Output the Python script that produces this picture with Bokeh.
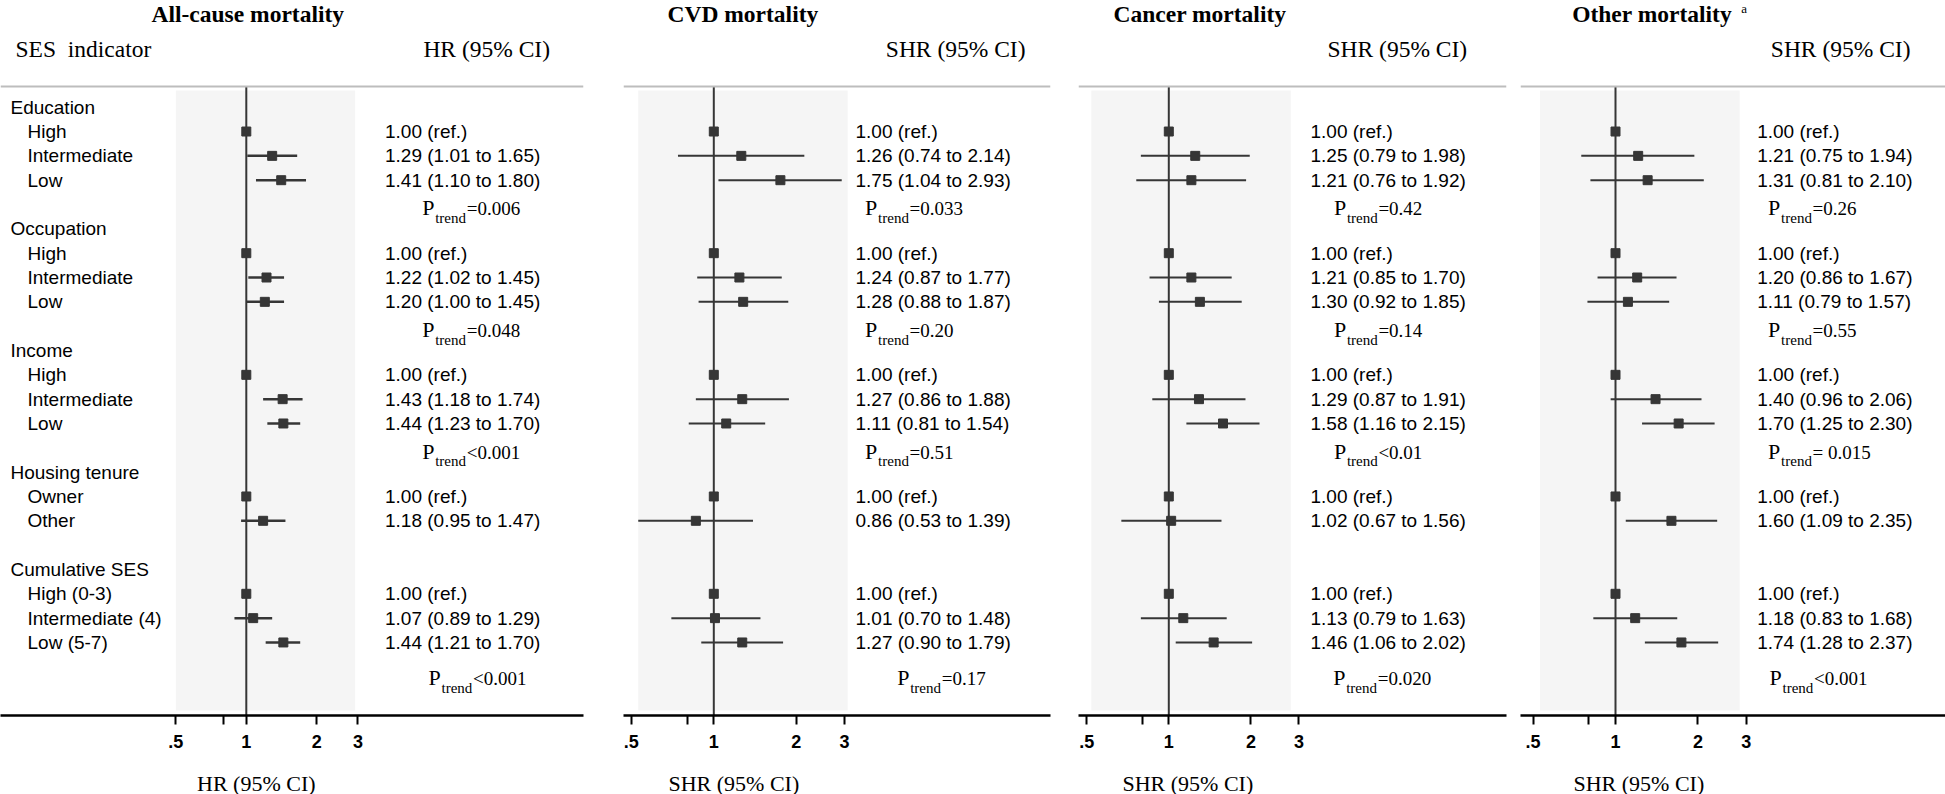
import math
from bokeh.plotting import figure
from bokeh.layouts import row, column
from bokeh.models import Range1d, FixedTicker, Span
from bokeh.core.properties import value
from bokeh.embed import file_html
from bokeh.resources import INLINE

# ---------------- data ----------------
groups = ["Education", "Occupation", "Income", "Housing tenure", "Cumulative SES"]
levels = [
    ["High", "Intermediate", "Low"],
    ["High", "Intermediate", "Low"],
    ["High", "Intermediate", "Low"],
    ["Owner", "Other"],
    ["High (0-3)", "Intermediate (4)", "Low (5-7)"],
]
panel_titles = ["All-cause mortality", "CVD mortality", "Cancer mortality", "Other mortality"]
title_marks = ["", "", "", "a"]
estimate_labels = ["HR (95% CI)", "SHR (95% CI)", "SHR (95% CI)", "SHR (95% CI)"]
ses_header = "SES\u00a0 indicator"
tick_values = [0.5, 0.8, 1, 2, 3]
tick_labels = [".5", "", "1", "2", "3"]

allcause_est = [1.00, 1.29, 1.41, 1.00, 1.22, 1.20, 1.00, 1.43, 1.44, 1.00, 1.18, 1.00, 1.07, 1.44]
allcause_lo = [None, 1.01, 1.10, None, 1.02, 1.00, None, 1.18, 1.23, None, 0.95, None, 0.89, 1.21]
allcause_hi = [None, 1.65, 1.80, None, 1.45, 1.45, None, 1.74, 1.70, None, 1.47, None, 1.29, 1.70]
allcause_p = ["=0.006", "=0.048", "<0.001", None, "<0.001"]

cvd_est = [1.00, 1.26, 1.75, 1.00, 1.24, 1.28, 1.00, 1.27, 1.11, 1.00, 0.86, 1.00, 1.01, 1.27]
cvd_lo = [None, 0.74, 1.04, None, 0.87, 0.88, None, 0.86, 0.81, None, 0.53, None, 0.70, 0.90]
cvd_hi = [None, 2.14, 2.93, None, 1.77, 1.87, None, 1.88, 1.54, None, 1.39, None, 1.48, 1.79]
cvd_p = ["=0.033", "=0.20", "=0.51", None, "=0.17"]

cancer_est = [1.00, 1.25, 1.21, 1.00, 1.21, 1.30, 1.00, 1.29, 1.58, 1.00, 1.02, 1.00, 1.13, 1.46]
cancer_lo = [None, 0.79, 0.76, None, 0.85, 0.92, None, 0.87, 1.16, None, 0.67, None, 0.79, 1.06]
cancer_hi = [None, 1.98, 1.92, None, 1.70, 1.85, None, 1.91, 2.15, None, 1.56, None, 1.63, 2.02]
cancer_p = ["=0.42", "=0.14", "<0.01", None, "=0.020"]

other_est = [1.00, 1.21, 1.31, 1.00, 1.20, 1.11, 1.00, 1.40, 1.70, 1.00, 1.60, 1.00, 1.18, 1.74]
other_lo = [None, 0.75, 0.81, None, 0.86, 0.79, None, 0.96, 1.25, None, 1.09, None, 0.83, 1.28]
other_hi = [None, 1.94, 2.10, None, 1.67, 1.57, None, 2.06, 2.30, None, 2.35, None, 1.68, 2.37]
other_p = ["=0.26", "=0.55", "= 0.015", None, "<0.001"]

panels_data = [
    (allcause_est, allcause_lo, allcause_hi, allcause_p),
    (cvd_est, cvd_lo, cvd_hi, cvd_p),
    (cancer_est, cancer_lo, cancer_hi, cancer_p),
    (other_est, other_lo, other_hi, other_p),
]

# ---------------- layout (pixels) ----------------
LAYOUT = [
    dict(left=0, width=603, bl=0, br=20, one=245.8, s=101.6, txt=384.5, p=421.7, p_last=428.0,
         title=151, head=549.5, axt=196.5, shade=(0.50, 2.92), ci_w=2.5),
    dict(left=603, width=461, bl=20, br=14, one=713.3, s=119.0, txt=855, p=864.6, p_last=896.7,
         title=667, head=1025, axt=668, shade=(0.53, 3.08), ci_w=2),
    dict(left=1064, width=449, bl=14, br=7, one=1168.3, s=118.5, txt=1310, p=1333.4, p_last=1332.7,
         title=1113, head=1466.7, axt=1122, shade=(0.52, 2.80), ci_w=2),
    dict(left=1513, width=432, bl=7, br=0, one=1615.0, s=119.0, txt=1756.7, p=1767.6, p_last=1769,
         title=1571.7, head=1910, axt=1573, shade=(0.53, 2.84), ci_w=2),
]
TOTAL_H = 794
MAIN_H = 766
FRAME_TOP = 0
AXIS_Y = 715
Y0 = 106.7
DY = 24.33
HEAD_LINE = 86
SHADE_TOP, SHADE_BOT = 90, 710
TITLE_MID, HEADER_MID, MARK_MID = 13.0, 48.5, 8.0
AXTITLE_MID = 782.5

SANS = value("Liberation Sans")
SERIF = value("Liberation Serif")
DARK = "#363636"


def to_k(py):
    return (py - Y0) / DY


# row positions
header_k, item_k, item_lab, p_k = [], [], [], []
k = 0
for gi, (g, lv) in enumerate(zip(groups, levels)):
    header_k.append(k)
    for j, name in enumerate(lv):
        item_k.append(k + 1 + j)
        item_lab.append(name)
    last = k + len(lv)
    p_k.append(last + (1.46 if gi == len(groups) - 1 else 1.14))
    k = last + 2


def fmt(e, lo, hi):
    if lo is None:
        return f"{e:.2f} (ref.)"
    return f"{e:.2f} ({lo:.2f} to {hi:.2f})"


figs, tfigs = [], []
for i, (est, lo, hi, pv) in enumerate(panels_data):
    L = LAYOUT[i]
    fl = L["left"] + L["bl"]
    fr = L["left"] + L["width"] - L["br"]

    def to_x(px, L=L):
        return math.exp((px - L["one"]) / L["s"])

    xr = Range1d(to_x(fl), to_x(fr))
    p = figure(width=L["width"], height=MAIN_H, x_axis_type="log", x_range=xr,
               y_range=Range1d(to_k(AXIS_Y), to_k(FRAME_TOP)),
               output_backend="svg", toolbar_location=None,
               min_border_left=L["bl"], min_border_right=L["br"],
               min_border_top=0, min_border_bottom=MAIN_H - (AXIS_Y - FRAME_TOP),
               y_axis_location=None)
    p.outline_line_color = None
    p.grid.visible = False

    # shaded plot region
    p.quad(left=[L["shade"][0]], right=[L["shade"][1]], top=[to_k(SHADE_TOP)], bottom=[to_k(SHADE_BOT)],
           fill_color="#f5f5f5", line_color=None)
    # header rule
    p.add_layout(Span(location=to_k(HEAD_LINE), dimension="width", line_color="#bdbdbd", line_width=2))
    # null line
    p.segment(x0=[1], y0=[to_k(HEAD_LINE)], x1=[1], y1=[to_k(AXIS_Y)], line_color=DARK, line_width=2)

    # CIs
    ci = [(lo_, hi_, kk) for lo_, hi_, kk in zip(lo, hi, item_k) if lo_ is not None]
    p.segment(x0=[c[0] for c in ci], y0=[c[2] for c in ci], x1=[c[1] for c in ci], y1=[c[2] for c in ci],
              line_color=DARK, line_width=L["ci_w"])
    p.scatter(x=est, y=item_k, marker="square", size=9, fill_color=DARK, line_color=DARK)

    # value column
    p.text(x=[to_x(L["txt"])] * len(est), y=item_k, text=[fmt(e, a, b) for e, a, b in zip(est, lo, hi)],
           text_font=SANS, text_font_size="19px", text_baseline="middle", text_align="left",
           text_color="black")

    # P trend
    px_list, pk_list, pt_list = [], [], []
    for gi, ptxt in enumerate(pv):
        if ptxt is None:
            continue
        px_list.append(to_x(L["p_last"] if gi == len(groups) - 1 else L["p"]))
        pk_list.append(p_k[gi])
        pt_list.append(ptxt)
    p.text(x=px_list, y=pk_list, text=["P"] * len(px_list), text_font=SERIF, text_font_size="22px",
           text_baseline="middle", text_color="black")
    p.text(x=px_list, y=[kk + 10 / DY for kk in pk_list], text=["trend"] * len(px_list), x_offset=13,
           text_font=SERIF, text_font_size="15px", text_baseline="middle", text_color="black")
    p.text(x=px_list, y=[kk + 1 / DY for kk in pk_list], text=pt_list, x_offset=44.5, text_font=SERIF,
           text_font_size="19px", text_baseline="middle", text_color="black")

    # titles & header
    p.text(x=[to_x(L["title"])], y=[to_k(TITLE_MID)], text=[panel_titles[i]], text_font=SERIF,
           text_font_size="23.5px", text_font_style="bold", text_baseline="middle", text_color="black")
    if title_marks[i]:
        p.text(x=[to_x(1740.7)], y=[to_k(MARK_MID)], text=[title_marks[i]], text_font=SERIF,
               text_font_size="13px", text_baseline="middle", text_color="black")
    p.text(x=[to_x(L["head"])], y=[to_k(HEADER_MID)], text=[estimate_labels[i]], text_font=SERIF,
           text_font_size="23.5px", text_align="right", text_baseline="middle", text_color="black")

    if i == 0:
        p.text(x=[to_x(15)], y=[to_k(HEADER_MID)], text=[ses_header], text_font=SERIF,
               text_font_size="23.5px", text_baseline="middle", text_color="black")
        p.text(x=[to_x(10)] * len(groups), y=header_k, text=groups, text_font=SANS, text_font_size="19px",
               text_baseline="middle", text_color="black")
        p.text(x=[to_x(27)] * len(item_lab), y=item_k, text=item_lab, text_font=SANS,
               text_font_size="19px", text_baseline="middle", text_color="black")

    # axis
    ax = p.xaxis[0]
    ax.ticker = FixedTicker(ticks=tick_values)
    ax.major_label_overrides = {v: t for v, t in zip(tick_values, tick_labels)}
    ax.axis_line_width = 2.5
    ax.axis_line_color = "black"
    ax.major_tick_line_width = 2
    ax.major_tick_line_color = "black"
    ax.major_tick_out = 9
    ax.major_tick_in = 0
    ax.minor_tick_line_color = None
    ax.major_label_text_font = "Liberation Sans"
    ax.major_label_text_font_style = "bold"
    ax.major_label_text_font_size = "18px"
    ax.major_label_text_color = "black"
    ax.major_label_standoff = 10
    figs.append(p)

    # axis title strip under the panel
    TH = TOTAL_H - MAIN_H
    t = figure(width=L["width"], height=TH, x_axis_type="log", x_range=xr, y_range=Range1d(0, TH),
               output_backend="svg", toolbar_location=None, x_axis_location=None, y_axis_location=None,
               min_border_left=L["bl"], min_border_right=L["br"], min_border_top=0, min_border_bottom=0)
    t.outline_line_color = None
    t.grid.visible = False
    t.text(x=[to_x(L["axt"])], y=[TOTAL_H - AXTITLE_MID], text=[estimate_labels[i]], text_font=SERIF,
           text_font_size="22px", text_baseline="middle", text_color="black")
    tfigs.append(t)

layout = column(row(*figs), row(*tfigs))
open("out.html", "w").write(file_html(layout, INLINE))
